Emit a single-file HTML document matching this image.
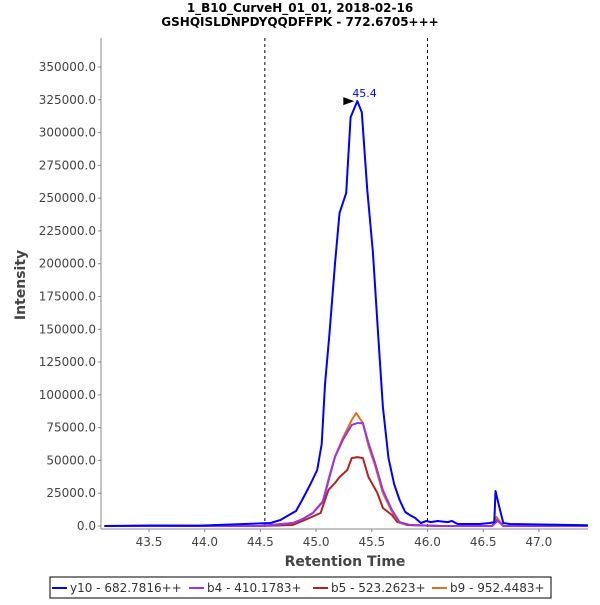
<!DOCTYPE html>
<html><head><meta charset="utf-8"><style>
body{margin:0;background:#fff;}
svg text{font-family:"DejaVu Sans","Liberation Sans",sans-serif;}
</style></head><body>
<svg id="chart" width="600" height="600">
<text x="300" y="12" text-anchor="middle" font-size="12" font-weight="bold" fill="#000">1_B10_CurveH_01_01, 2018-02-16</text>
<text x="300" y="26" text-anchor="middle" font-size="12" font-weight="bold" fill="#000">GSHQISLDNPDYQQDFFPK - 772.6705+++</text>
<g id="grid"></g><g id="axes"></g><g id="series"></g>
<text transform="translate(25,285) rotate(-90)" text-anchor="middle" font-size="14" font-weight="bold" fill="#444">Intensity</text>
<text x="345" y="566" text-anchor="middle" font-size="14" font-weight="bold" fill="#444">Retention Time</text>
<g>
<rect x="50" y="577" width="501" height="21" fill="#fff" stroke="#000" stroke-width="1"/>
<line x1="52" y1="588" x2="67" y2="588" stroke="#0000ff" stroke-width="2"/><text x="70" y="592" font-size="12" fill="#333">y10 - 682.7816++</text>
<line x1="189" y1="588" x2="204" y2="588" stroke="#9933ee" stroke-width="2"/><text x="207" y="592" font-size="12" fill="#333">b4 - 410.1783+</text>
<line x1="313" y1="588" x2="328" y2="588" stroke="#b22222" stroke-width="2"/><text x="331" y="592" font-size="12" fill="#333">b5 - 523.2623+</text>
<line x1="432" y1="588" x2="447" y2="588" stroke="#e2711d" stroke-width="2"/><text x="450" y="592" font-size="12" fill="#333">b9 - 952.4483+</text>
</g>
</svg>
<script>
const xTicks=[43.5,44.0,44.5,45.0,45.5,46.0,46.5,47.0];
const yTicks=[0,25000,50000,75000,100000,125000,150000,175000,200000,225000,250000,275000,300000,325000,350000];
const markerLines=[44.54,46.0];
const y10Rt=[43.10,43.51,43.96,44.36,44.59,44.68,44.77,44.82,44.88,44.95,45.01,45.05,45.08,45.12,45.17,45.21,45.27,45.31,45.37,45.41,45.46,45.51,45.56,45.60,45.65,45.70,45.75,45.80,45.84,45.89,45.94,45.99,46.03,46.09,46.18,46.22,46.27,46.47,46.56,46.60,46.61,46.64,46.68,46.74,47.44];
const y10Val=[0,400,300,1500,2300,4600,9100,11400,20600,32000,42700,62500,108000,147000,200000,238500,254000,311700,324000,315500,256000,208800,141800,90700,51800,32000,19800,10700,8400,6100,2300,3800,3000,3800,3000,3800,1500,1500,2300,3000,26700,16000,2300,1500,500];
const b4Rt=[43.10,44.50,44.79,44.88,44.97,45.06,45.12,45.17,45.24,45.32,45.37,45.42,45.47,45.53,45.60,45.68,45.75,45.84,46.11,46.58,46.63,46.68,47.44];
const b4Val=[0,0,2300,5300,9900,18300,37300,52600,65500,77000,78500,78500,63300,48000,27400,12200,3000,800,0,0,4000,0,0];
const b5Rt=[43.10,44.50,44.79,44.92,45.04,45.11,45.17,45.21,45.28,45.32,45.37,45.42,45.47,45.55,45.60,45.68,45.73,45.82,46.11,46.58,46.63,46.68,47.44];
const b5Val=[0,0,800,5300,9900,27400,32800,37300,42700,51800,52500,51800,37300,25200,13700,8400,3000,800,0,0,5300,0,0];
const b9Rt=[43.10,44.50,44.79,44.88,44.97,45.06,45.12,45.17,45.24,45.32,45.36,45.42,45.47,45.53,45.60,45.68,45.75,45.84,46.11,46.58,46.62,46.68,47.44];
const b9Val=[0,0,2300,5300,9900,19000,38500,53000,67000,80800,86100,78500,61000,46000,25000,11000,2500,800,0,0,6900,0,0];
const peakLabel="45.4";
const peakRt=45.37, peakVal=324000;

const L=102,R=588,T=38,Y0=526;
const xs=v=>149+(v-43.5)*111.4;
const ys=v=>Y0-v*(459/350000);
const NS="http://www.w3.org/2000/svg";
function mk(tag,attrs,parent){const e=document.createElementNS(NS,tag);for(const k in attrs)e.setAttribute(k,attrs[k]);parent.appendChild(e);return e;}
const axes=document.getElementById('axes'),grid=document.getElementById('grid'),ser=document.getElementById('series');
let a=mk('line',{x1:L-1,y1:T,x2:L-1,y2:529,stroke:'#888','stroke-width':1},axes);


a=mk('line',{x1:L-1,y1:529,x2:R,y2:529,stroke:'#888','stroke-width':1},axes);


yTicks.forEach(v=>{
 const y=ys(v);
 mk('line',{x1:L-4,y1:y,x2:L-1,y2:y,stroke:'#888'},axes);
 const t=mk('text',{x:L-6,y:y+4,'text-anchor':'end','font-size':12,fill:'#444'},axes);
 t.textContent=v.toFixed(1);
 
 
});
xTicks.forEach(v=>{
 const x=xs(v);
 mk('line',{x1:x,y1:529,x2:x,y2:532,stroke:'#888'},axes);
 const t=mk('text',{x:x,y:546,'text-anchor':'middle','font-size':12,fill:'#444'},axes);
 t.textContent=v.toFixed(1);
 
 
});
markerLines.forEach(v=>{
 const l=mk('line',{x1:xs(v),y1:T,x2:xs(v),y2:528,stroke:'#000','stroke-dasharray':'3,3','stroke-width':1},grid);
 
 
});
function series(rt,val,color,name){
 const p=mk('polyline',{points:rt.map((r,i)=>xs(r).toFixed(1)+','+ys(val[i]).toFixed(1)).join(' '),fill:'none',stroke:color,'stroke-width':2,'stroke-linejoin':'round'},ser);
 
 
}
series(b5Rt,b5Val,'#b22222','series-b5');
series(b9Rt,b9Val,'#e2711d','series-b9');
series(b4Rt,b4Val,'#9933ee','series-b4');
series(y10Rt,y10Val,'#0000ff','series-y10');
const px=xs(peakRt),py=ys(peakVal);
const ar=mk('polygon',{points:`${px-3},${py} ${px-14},${py-4} ${px-14},${py+4}`,fill:'#000'},ser);


const pl=mk('text',{x:px-5,y:py-4,'font-size':11,fill:'#0000ff'},ser);
pl.textContent=peakLabel;


</script>
</body></html>
